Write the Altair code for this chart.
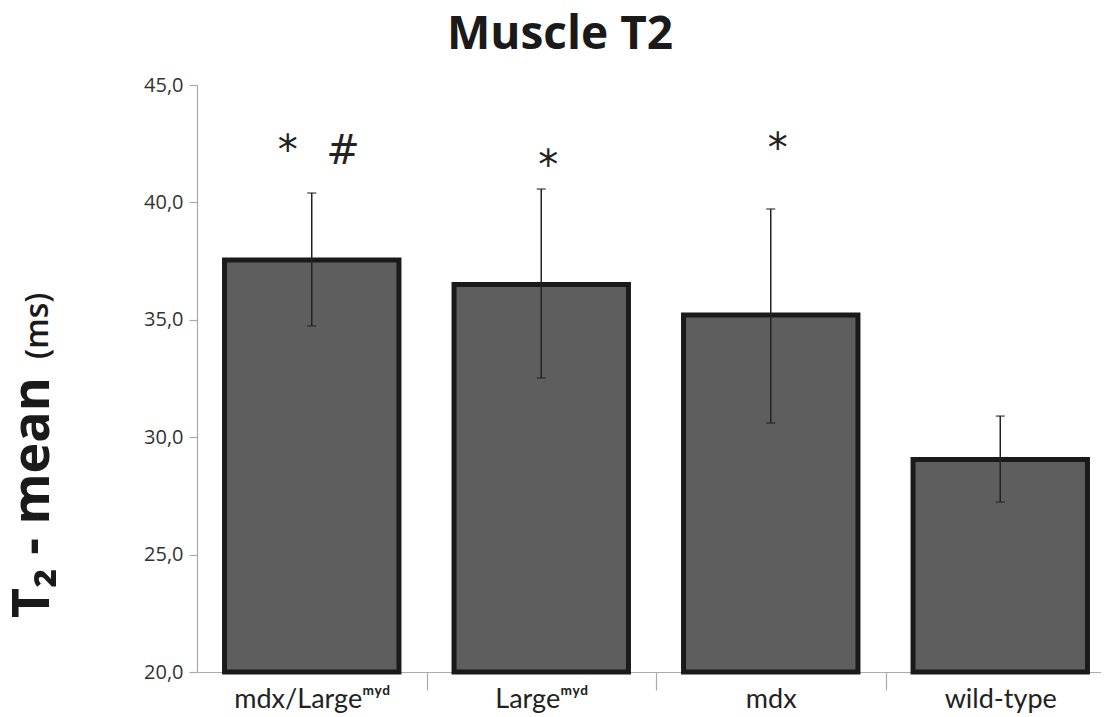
import altair as alt
import pandas as pd

groups = ["mdx/Largeᵐʸᵈ", "Largeᵐʸᵈ", "mdx", "wild-type"]
means = [37.55, 36.5, 35.2, 29.05]
err_low = [34.74, 32.52, 30.6, 27.24]
err_high = [40.4, 40.57, 39.72, 30.9]
sig_text = ["*  \u2009\u2009#", "*", "*", ""]
sig_y = [42.15, 41.5, 42.25, 0.0]
baseline = 20.0
y_ticks = [20, 25, 30, 35, 40, 45]

df = pd.DataFrame({
    "group": groups,
    "mean": means,
    "lo": err_low,
    "hi": err_high,
    "sig": sig_text,
    "sig_y": sig_y,
    "base": [baseline] * len(groups),
})

x_enc = alt.X(
    "group:N",
    sort=groups,
    scale=alt.Scale(paddingInner=0.24, paddingOuter=0.12, range=[0, 918]),
    axis=alt.Axis(
        title=None, labelAngle=0, labelFontSize=27, labelFont="Lato",
        labelColor="#222222", tickOffset=114.75, labelOffset=-114.75,
        tickSize=18, tickColor="#aaaaaa",
        domainColor="#aaaaaa", labelPadding=-4, domainWidth=1.2, tickWidth=1.2,
    ),
)
y_scale = alt.Scale(domain=[20, 45], zero=False, nice=False)
y_axis = alt.Axis(
    title=None, values=y_ticks, grid=False,
    labelExpr="replace(format(datum.value, '.1f'), '.', ',')",
    labelFontSize=20, labelFont="Open Sans", labelColor="#333333",
    tickSize=8, tickColor="#aaaaaa", domainColor="#aaaaaa", labelPadding=6,
    domainWidth=1.2, tickWidth=1.2,
)

base = alt.Chart(df)

bars = base.mark_bar(fill="#5e5e5e", stroke="#1a1a1a", strokeWidth=5).encode(
    x=x_enc,
    y=alt.Y("mean:Q", scale=y_scale, axis=y_axis),
    y2=alt.Y2("base:Q"),
)

rules = base.mark_rule(color="#222222", strokeWidth=1.5).encode(
    x=x_enc, y=alt.Y("lo:Q", scale=y_scale), y2="hi:Q"
)
cap_lo = base.mark_tick(color="#222222", thickness=1.5, size=9).encode(
    x=x_enc, y=alt.Y("lo:Q", scale=y_scale)
)
cap_hi = base.mark_tick(color="#222222", thickness=1.5, size=9).encode(
    x=x_enc, y=alt.Y("hi:Q", scale=y_scale)
)

sig = base.transform_filter("datum.sig != ''").mark_text(
    fontSize=40, font="DejaVu Sans", color="#222222", baseline="middle", dx=7
).encode(
    x=x_enc, y=alt.Y("sig_y:Q", scale=y_scale), text="sig:N"
)

ytitle1 = alt.Chart(pd.DataFrame({"t": ["T₂ - mean"]})).mark_text(
    angle=270, align="left", baseline="middle", fontSize=52, fontWeight="bold",
    font="Open Sans", color="#1a1a1a"
).encode(x=alt.value(-164), y=alt.value(533), text="t:N")

ytitle2 = alt.Chart(pd.DataFrame({"t": ["(ms)"]})).mark_text(
    angle=270, align="left", baseline="middle", fontSize=32, fontWeight=600,
    font="Open Sans", color="#1a1a1a"
).encode(x=alt.value(-159), y=alt.value(274), text="t:N")

chart = alt.layer(bars, rules, cap_lo, cap_hi, sig, ytitle1, ytitle2).properties(
    width=904,
    height=587,
    title=alt.TitleParams(
        "Muscle T2", fontSize=46, fontWeight="bold", font="Open Sans",
        color="#1a1a1a", anchor="middle", offset=16, dx=-89,
    ),
    autosize=alt.AutoSizeParams(type="none"),
    padding={"left": 189, "top": 77, "right": 0, "bottom": 45},
).configure_view(stroke=None)

chart.save("out.html", embed_options={"renderer": "svg", "actions": False})
